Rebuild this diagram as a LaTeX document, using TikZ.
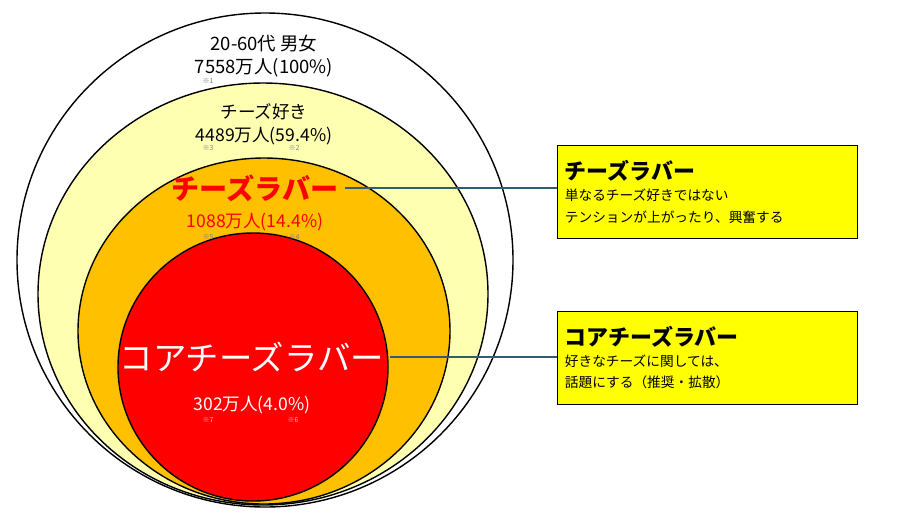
\documentclass[tikz,border=0pt]{standalone}
\usepackage{fontspec}
\setmainfont{Noto Sans CJK JP}
\usetikzlibrary{positioning}
\definecolor{lemon}{RGB}{255,255,178}
\definecolor{amber}{RGB}{255,192,0}
\definecolor{boxyellow}{RGB}{255,255,0}
\definecolor{leader}{RGB}{49,94,110}
\tikzset{
  ring/.style={draw=black,line width=0.8pt},
  note/.style={text=gray,font=\fontsize{4}{4}\selectfont,inner sep=0pt},
  infobox/.style={draw=black,fill=boxyellow,minimum width=6cm,minimum height=1.86cm,
    align=left,text width=5.7cm,inner sep=4pt},
  leadline/.style={draw=leader,line width=0.6pt}
}
\begin{document}
\begin{tikzpicture}[x=0.02cm,y=-0.02cm]
\useasboundingbox (0,0) rectangle (900,515);

% nested populations
\draw[ring,fill=white] (265,260) ellipse [x radius=248,y radius=247];
\draw[ring,fill=lemon] (263,294) ellipse [x radius=225,y radius=211];
\draw[ring,fill=amber] (264,331) ellipse [x radius=186,y radius=173];
\draw[ring,fill=red] (253,367) ellipse [x radius=135,y radius=134];

\node[align=center,font=\fontsize{10.5}{13}\selectfont] (all) at (264,56) {20-60代 男女\\7558万人(100\%)};
\node[note] (n1) at (208,81) {※1};
\node[align=center,font=\fontsize{10}{13}\selectfont] (like) at (264,124) {チーズ好き\\4489万人(59.4\%)};
\node[note] (n3) at (208,148) {※3};
\node[note] (n2) at (294,148) {※2};
\node[text=red,font=\bfseries\fontsize{16}{16}\selectfont] (lover) at (255,188) {チーズラバー};
\node[text=red,font=\fontsize{10}{10}\selectfont] (lovernum) at (255,222) {1088万人(14.4\%)};
\node[note] (n5) at (208,237) {※5};
\node[note] (n4) at (294,237) {※4};
\node[text=white,font=\fontsize{19}{19}\selectfont] (core) at (252,357) {コアチーズラバー};
\node[text=white,font=\fontsize{10}{10}\selectfont] (corenum) at (252,405) {302万人(4.0\%)};
\node[note,text=white!70!red] (n7) at (208,420) {※7};
\node[note,text=white!70!red] (n6) at (293,420) {※6};

% explanations
\node[infobox,anchor=north west] (box1) at (557,145) {{\bfseries\fontsize{12.5}{16}\selectfont チーズラバー}\\[1pt]
  {\fontsize{7.8}{11}\selectfont 単なるチーズ好きではない\\テンションが上がったり、興奮する}};
\node[infobox,anchor=north west] (box2) at (557,311) {{\bfseries\fontsize{12.5}{16}\selectfont コアチーズラバー}\\[1pt]
  {\fontsize{7.8}{11}\selectfont 好きなチーズに関しては、\\話題にする（推奨・拡散）}};

\draw[leadline] (lover.east) -- (box1.west |- lover.east);
\draw[leadline] (core.east) -- (box2.west |- core.east);
\end{tikzpicture}
\end{document}
